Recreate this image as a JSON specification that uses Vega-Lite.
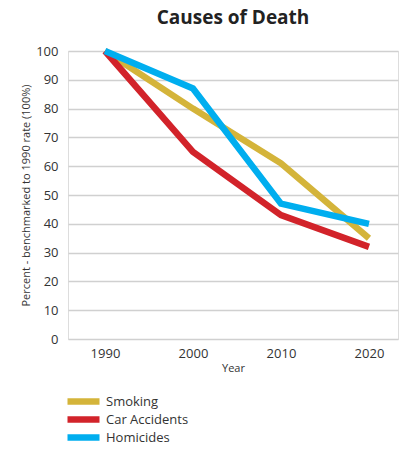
{
  "$schema": "https://vega.github.io/schema/vega-lite/v6.json",
  "width": 330,
  "height": 288,
  "autosize": {"type": "none"},
  "padding": {"left": 68, "top": 51, "right": 8, "bottom": 111},
  "background": "white",
  "title": {
    "text": "Causes of Death",
    "font": "Open Sans",
    "fontSize": 19,
    "fontWeight": "bold",
    "color": "#222222",
    "anchor": "middle",
    "offset": 10
  },
  "data": {
    "values": [
      {"year": "1990", "cause": "Smoking", "value": 100},
      {"year": "2000", "cause": "Smoking", "value": 80},
      {"year": "2010", "cause": "Smoking", "value": 61},
      {"year": "2020", "cause": "Smoking", "value": 35},
      {"year": "1990", "cause": "Car Accidents", "value": 100},
      {"year": "2000", "cause": "Car Accidents", "value": 65},
      {"year": "2010", "cause": "Car Accidents", "value": 43},
      {"year": "2020", "cause": "Car Accidents", "value": 32},
      {"year": "1990", "cause": "Homicides", "value": 100},
      {"year": "2000", "cause": "Homicides", "value": 87},
      {"year": "2010", "cause": "Homicides", "value": 47},
      {"year": "2020", "cause": "Homicides", "value": 40}
    ]
  },
  "mark": {"type": "line", "strokeWidth": 6.5, "strokeJoin": "miter"},
  "encoding": {
    "x": {
      "field": "year",
      "type": "ordinal",
      "scale": {"type": "point", "padding": 0.375, "align": 0.56},
      "axis": {
        "title": "Year",
        "titleFont": "Open Sans",
        "titleFontSize": 11,
        "titleFontWeight": "normal",
        "titleColor": "#333333",
        "titlePadding": 2,
        "labelFont": "Open Sans",
        "labelFontSize": 13,
        "labelColor": "#333333",
        "labelAngle": 0,
        "labelPadding": 8,
        "domain": false,
        "ticks": false,
        "grid": false
      }
    },
    "y": {
      "field": "value",
      "type": "quantitative",
      "scale": {"domain": [0, 100]},
      "axis": {
        "title": "Percent - benchmarked to 1990 rate (100%)",
        "titleFont": "Open Sans",
        "titleFontSize": 11,
        "titleFontWeight": "normal",
        "titleColor": "#333333",
        "titlePadding": 4,
        "labelFont": "Open Sans",
        "labelFontSize": 13,
        "labelColor": "#333333",
        "labelPadding": 10,
        "labelOverlap": false,
        "values": [0, 10, 20, 30, 40, 50, 60, 70, 80, 90, 100],
        "domain": false,
        "ticks": false,
        "grid": true,
        "gridColor": "#d0d0d0",
        "gridWidth": 1.5
      }
    },
    "color": {
      "field": "cause",
      "type": "nominal",
      "scale": {
        "domain": ["Smoking", "Car Accidents", "Homicides"],
        "range": ["#D4B43A", "#D2232A", "#00AEEF"]
      },
      "legend": {
        "title": null,
        "orient": "none",
        "legendX": 8,
        "legendY": 343,
        "direction": "vertical",
        "symbolType": "M-4,0L4,0",
        "symbolSize": 64,
        "symbolStrokeWidth": 6.5,
        "labelFont": "Open Sans",
        "labelFontSize": 13,
        "labelColor": "#333333",
        "labelOffset": 15,
        "rowPadding": 3,
        "encode": {
          "symbols": {"update": {"strokeJoin": {"value": "bevel"}, "strokeCap": {"value": "butt"}}}
        }
      }
    },
    "order": {"field": "cause"}
  }
}
